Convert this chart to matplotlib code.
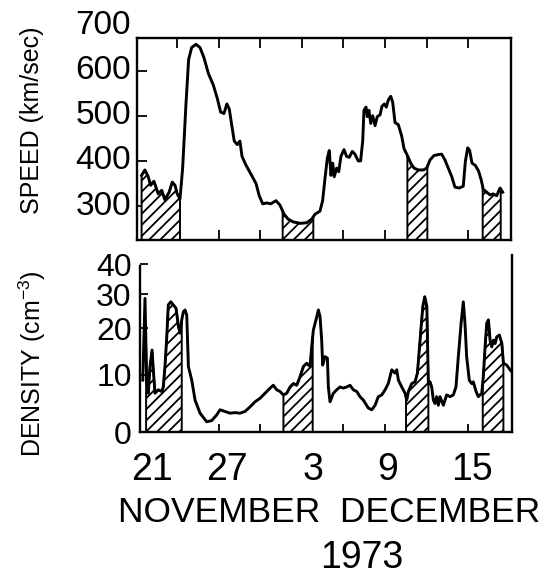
import numpy as np
import matplotlib
matplotlib.use("Agg")
import matplotlib.pyplot as plt

plt.rcParams['font.family'] = ['Liberation Sans', 'DejaVu Sans']
plt.rcParams['mathtext.fontset'] = 'custom'
plt.rcParams['mathtext.rm'] = 'Liberation Sans'
plt.rcParams['mathtext.default'] = 'regular'
plt.rcParams['hatch.linewidth'] = 1.3

# solar wind speed, day of November (Dec 1 = 31)
speed_day = [21.45, 21.69, 21.93, 22.10, 22.34, 22.65, 22.90, 23.13, 23.44, 23.66,
             23.86, 24.02, 24.22, 24.41, 24.65, 24.84, 25.06, 25.37, 25.66, 25.95,
             26.26, 26.62, 26.91, 27.15, 27.39, 27.60, 27.77, 27.94, 28.13, 28.35,
             28.54, 28.69, 28.97, 29.31, 29.70, 29.93, 30.18, 30.47, 30.76, 31.14,
             31.43, 31.72, 32.02, 32.38, 32.87, 33.35, 33.71, 33.95, 34.31, 34.50,
             34.67, 34.84, 34.98, 35.10, 35.23, 35.34, 35.51, 35.66, 35.82, 36.04,
             36.23, 36.42, 36.64, 36.83, 37.07, 37.24, 37.39, 37.48, 37.63, 37.72,
             37.84, 37.97, 38.11, 38.28, 38.44, 38.64, 38.78, 38.95, 39.09, 39.24,
             39.41, 39.55, 39.72, 39.96, 40.20, 40.37, 40.61, 40.85, 41.09, 41.40,
             41.76, 42.00, 42.24, 42.53, 42.84, 43.08, 43.32, 43.56, 43.81, 44.04,
             44.35, 44.64, 44.79, 44.96, 45.10, 45.27, 45.51, 45.75, 45.94, 46.08,
             46.32, 46.56, 46.80, 47.05, 47.29, 47.48]
speed_kms = [368, 380, 365, 346, 355, 327, 335, 314, 331, 353,
             346, 327, 316, 384, 526, 624, 651, 658, 651, 628,
             594, 568, 538, 508, 505, 526, 515, 481, 444, 436,
             444, 410, 391, 372, 350, 323, 305, 307, 305, 312,
             302, 282, 271, 265, 262, 263, 271, 282, 289, 312,
             361, 406, 423, 368, 395, 365, 384, 376, 410, 425,
             410, 408, 421, 415, 400, 400, 444, 512, 519, 498,
             512, 483, 500, 478, 498, 502, 521, 526, 519, 535,
             543, 530, 485, 480, 455, 427, 412, 395, 384, 380,
             380, 384, 402, 412, 414, 415, 402, 384, 365, 342,
             340, 344, 399, 429, 423, 395, 390, 377, 357, 337,
             331, 325, 327, 323, 340, 331]

# proton density
dens_day = [21.53, 21.69, 21.81, 21.93, 22.05, 22.20, 22.29, 22.41, 22.65, 22.90,
            23.01, 23.13, 23.26, 23.37, 23.55, 23.73, 23.93, 24.10, 24.22, 24.34,
            24.46, 24.58, 24.70, 24.82, 25.06, 25.30, 25.66, 26.14, 26.50, 26.86,
            27.10, 27.46, 27.82, 28.18, 28.54, 28.90, 29.26, 29.62, 29.98, 30.34,
            30.71, 30.94, 31.19, 31.43, 31.67, 31.91, 32.15, 32.39, 32.63, 32.87,
            33.11, 33.35, 33.59, 33.71, 33.83, 34.02, 34.19, 34.31, 34.43, 34.50,
            34.67, 34.84, 34.91, 35.03, 35.27, 35.51, 35.75, 35.99, 36.23, 36.47,
            36.71, 36.96, 37.19, 37.43, 37.79, 38.04, 38.28, 38.51, 38.76, 39.00,
            39.23, 39.48, 39.72, 39.84, 39.96, 40.20, 40.44, 40.56, 40.68, 40.92,
            41.16, 41.33, 41.52, 41.72, 41.86, 42.01, 42.12, 42.24, 42.36, 42.48,
            42.60, 42.72, 42.84, 42.96, 43.20, 43.44, 43.68, 43.92, 44.11, 44.28,
            44.48, 44.64, 44.76, 44.88, 45.07, 45.24, 45.36, 45.56, 45.72, 45.97,
            46.08, 46.21, 46.33, 46.45, 46.57, 46.69, 46.81, 46.93, 47.05, 47.24,
            47.42, 47.53, 47.77, 48.01, 48.21]
dens_cm3 = [9.1, 28.7, 9.1, 6.8, 11.8, 15.3, 11.1, 6.8, 7.4, 7.1,
            7.9, 11.8, 18.1, 26.8, 27.7, 26.8, 25.8, 20.4, 18.9, 22.4,
            24.8, 25.3, 23.8, 11.8, 9.1, 5.6, 3.3, 1.8, 2.0, 3.0,
            3.9, 3.6, 3.3, 3.4, 3.3, 3.6, 4.4, 5.3, 5.9, 6.8,
            7.7, 8.2, 7.4, 7.1, 6.5, 6.8, 7.9, 8.5, 8.2, 9.7,
            11.8, 12.5, 11.8, 16.0, 19.6, 22.4, 25.3, 23.3, 17.4, 12.1,
            13.9, 13.6, 7.9, 5.3, 6.8, 7.4, 7.9, 7.7, 7.9, 8.2,
            7.4, 7.1, 6.2, 5.6, 4.2, 3.9, 4.7, 6.2, 6.5, 7.4,
            8.5, 11.1, 10.4, 11.1, 9.1, 7.9, 6.8, 5.6, 7.1, 8.5,
            8.8, 10.4, 17.4, 26.3, 29.2, 26.3, 8.5, 8.8, 7.9, 5.6,
            5.0, 6.2, 4.7, 6.2, 4.7, 6.5, 6.2, 6.5, 7.9, 13.9,
            21.4, 27.7, 21.4, 13.9, 9.1, 8.5, 8.8, 7.1, 6.2, 6.8,
            9.7, 16.0, 21.4, 22.4, 17.4, 16.0, 17.4, 16.7, 18.1, 18.5,
            16.7, 12.5, 12.1, 11.1, 10.4]

# hatched intervals (start day, end day)
speed_bands = [(21.45, 24.22), (31.62, 33.83), (40.61, 42.05), (46.04, 47.34)]
dens_bands = [(21.77, 24.34), (31.67, 33.78), (40.51, 42.12), (46.04, 47.53)]

speed_ticks = [300, 400, 500, 600, 700]
dens_ticks = [0, 10, 20, 30, 40]
day_ticks = [24, 27, 30, 33, 36, 39, 42, 45]
day_labels = ['21', '27', '3', '9', '15']
label_days = [21, 27, 33, 39, 45]

# the density axis is stretched at the low end
dens_pos = [0, 57, 104, 138, 168]


def dens_fwd(v):
    v = np.asarray(v, dtype=float)
    return np.where(v > 40, 168 + (v - 40) * 3.0,
                    np.where(v < 0, v * 5.7, np.interp(v, dens_ticks, dens_pos)))


def dens_inv(p):
    p = np.asarray(p, dtype=float)
    return np.where(p > 168, 40 + (p - 168) / 3.0,
                    np.where(p < 0, p / 5.7, np.interp(p, dens_pos, dens_ticks)))


def hatch_band(ax, days, vals, a, b):
    xs = np.linspace(a, b, 80)
    ys = np.interp(xs, days, vals)
    ax.fill_between(xs, 0, ys, facecolor='white', edgecolor='black',
                    hatch='///', linewidth=1.4, zorder=2)


W, H = 549, 580
fig = plt.figure(figsize=(W / 100, H / 100), dpi=100)

# speed panel
ax1 = fig.add_axes([137 / W, 1 - 240 / H, (511 - 137) / W, (240 - 38) / H])
for a, b in speed_bands:
    hatch_band(ax1, speed_day, speed_kms, a, b)
ax1.plot(speed_day, speed_kms, color='black', lw=2.1, zorder=3)
ax1.set_xlim(21.12, 48.08)
ax1.set_ylim(225, 672)
ax1.set_xticks(day_ticks)
ax1.set_yticks(speed_ticks[:-1])
ax1.tick_params(axis='both', direction='in', length=7, width=1.3,
                top=True, labelbottom=False, labelleft=False)
for s in ax1.spines.values():
    s.set_linewidth(1.7)
for v in speed_ticks:
    ax1.text(-0.016, v, str(v), transform=ax1.get_yaxis_transform(),
             ha='right', va='center', fontsize=24, clip_on=False)

# density panel
ax2 = fig.add_axes([140 / W, 1 - 432 / H, (512 - 140) / W, (432 - 255) / H])
ax2.set_yscale('function', functions=(dens_fwd, dens_inv))
for a, b in dens_bands:
    hatch_band(ax2, dens_day, dens_cm3, a, b)
ax2.plot(dens_day, dens_cm3, color='black', lw=2.1, zorder=3)
ax2.set_xlim(21.33, 48.15)
ax2.set_ylim(0, 43)
ax2.set_xticks(day_ticks)
ax2.set_yticks(dens_ticks, [str(t) for t in dens_ticks])
ax2.tick_params(axis='both', direction='in', length=6, width=1.3,
                labelbottom=False, labelsize=23, pad=6)
ax2.spines['top'].set_visible(False)
ax2.spines['left'].set_bounds(0, 39.5)
for s in ax2.spines.values():
    s.set_linewidth(1.7)

nudge = [1.2, 0.6, 0.8, 0.2, 0.3]
for d, lab, n in zip(label_days, day_labels, nudge):
    ax2.text(d + n, -0.215, lab, transform=ax2.get_xaxis_transform(),
             ha='center', va='center', fontsize=27)

fig.text(329 / W, 1 - 513 / H, 'NOVEMBER  DECEMBER', ha='center', va='center', fontsize=25.5)
fig.text(362 / W, 1 - 558 / H, '1973', ha='center', va='center', fontsize=27)
fig.text(32 / W, 1 - 120 / H, 'SPEED (km/sec)', rotation=90, ha='center', va='center', fontsize=18)
fig.text(32 / W, 1 - 364 / H, 'DENSITY (cm$^{-3}$)', rotation=90, ha='center', va='center', fontsize=18)

fig.savefig('out.png', dpi=100)
